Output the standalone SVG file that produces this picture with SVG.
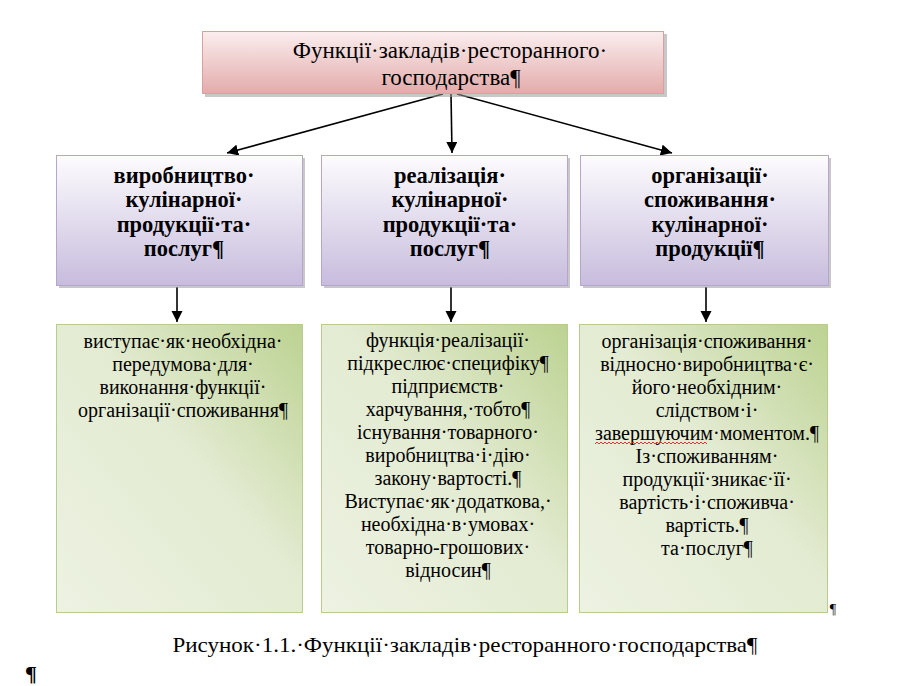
<svg xmlns="http://www.w3.org/2000/svg" width="897" height="686" viewBox="0 0 897 686">
<style>
text{font-family:'Liberation Serif','Tinos','Times New Roman','DejaVu Serif','Noto Serif',serif;fill:#000;text-anchor:middle}
.t{font-size:23px}
.b{font-size:22.5px;font-weight:bold}
.r{font-size:20px}
.cap{font-size:22px}
.sh{fill:#9a9a9a;opacity:0.55}
.top{fill:url(#gPink);stroke:#d9a0a0;stroke-width:1}
.mid{fill:url(#gLav);stroke:#b6a6cc;stroke-width:1}
.bot{fill:url(#gGreen);stroke:#b7cc8e;stroke-width:1}
.ln{stroke:#000;stroke-width:1.6;fill:none;marker-end:url(#ah)}
</style>
<defs>
<linearGradient id="gPink" x1="0" y1="0" x2="0" y2="1">
<stop offset="0" stop-color="#fbeeee"/><stop offset="1" stop-color="#e3abab"/>
</linearGradient>
<linearGradient id="gLav" x1="0" y1="0" x2="0" y2="1">
<stop offset="0" stop-color="#fdfcfe"/><stop offset="1" stop-color="#c7bcdd"/>
</linearGradient>
<linearGradient id="gGreen" x1="1" y1="0" x2="0" y2="1">
<stop offset="0" stop-color="#bcd291"/><stop offset="0.45" stop-color="#e3ebd2"/><stop offset="1" stop-color="#edf2e2"/>
</linearGradient>
<marker id="ah" viewBox="0 0 10 10" refX="10" refY="5" markerWidth="7" markerHeight="7" orient="auto" markerUnits="strokeWidth">
<path d="M0,0 L10,5 L0,10 z" fill="#000"/>
</marker>
</defs>
<rect width="897" height="686" fill="#fff"/>

<g id="connectors">
<line class="ln" x1="443" y1="94" x2="227" y2="153"/>
<line class="ln" x1="451" y1="94" x2="452" y2="153"/>
<line class="ln" x1="457" y1="94" x2="672" y2="153"/>
<line class="ln" x1="177" y1="287" x2="177" y2="322"/>
<line class="ln" x1="451" y1="287" x2="451" y2="322"/>
<line class="ln" x1="706" y1="287" x2="706" y2="322"/>
</g>

<g id="top">
<rect class="sh" x="205" y="34" width="462" height="63"/>
<rect class="top" x="202.5" y="31.5" width="461" height="62"/>
<text class="t" x="450" y="58">Функції·закладів·ресторанного·</text>
<text class="t" x="451" y="85">господарства¶</text>
</g>

<g id="mid1">
<rect class="sh" x="59" y="158" width="246" height="130"/>
<rect class="mid" x="56.5" y="155.5" width="246" height="130"/>
<text class="b" x="184" y="183">виробництво·</text>
<text class="b" x="184" y="207">кулінарної·</text>
<text class="b" x="184" y="232">продукції·та·</text>
<text class="b" x="184" y="256">послуг¶</text>
</g>

<g id="mid2">
<rect class="sh" x="324" y="158" width="246" height="130"/>
<rect class="mid" x="321.5" y="155.5" width="246" height="130"/>
<text class="b" x="450" y="183">реалізація·</text>
<text class="b" x="450" y="207">кулінарної·</text>
<text class="b" x="450" y="232">продукції·та·</text>
<text class="b" x="450" y="256">послуг¶</text>
</g>

<g id="mid3">
<rect class="sh" x="583" y="158" width="248" height="130"/>
<rect class="mid" x="580.5" y="155.5" width="248" height="130"/>
<text class="b" x="710" y="183">організації·</text>
<text class="b" x="710" y="207">споживання·</text>
<text class="b" x="710" y="232">кулінарної·</text>
<text class="b" x="710" y="256">продукції¶</text>
</g>

<g id="bot1">
<rect class="bot" x="56.5" y="324.5" width="246" height="288"/>
<text class="r" x="183" y="348">виступає·як·необхідна·</text>
<text class="r" x="183" y="371">передумова·для·</text>
<text class="r" x="183" y="394">виконання·функції·</text>
<text class="r" x="183" y="417">організації·споживання¶</text>
</g>

<g id="bot2">
<rect class="bot" x="321.5" y="324.5" width="246" height="288"/>
<text class="r" x="448" y="347">функція·реалізації·</text>
<text class="r" x="448" y="370">підкреслює·специфіку¶</text>
<text class="r" x="448" y="393">підприємств·</text>
<text class="r" x="448" y="416">харчування,·тобто¶</text>
<text class="r" x="448" y="439">існування·товарного·</text>
<text class="r" x="448" y="462">виробництва·і·дію·</text>
<text class="r" x="448" y="485">закону·вартості.¶</text>
<text class="r" x="448" y="508">Виступає·як·додаткова,·</text>
<text class="r" x="448" y="531">необхідна·в·умовах·</text>
<text class="r" x="448" y="554">товарно-грошових·</text>
<text class="r" x="448" y="577">відносин¶</text>
</g>

<g id="bot3">
<rect class="bot" x="579.5" y="324.5" width="248" height="288"/>
<text class="r" x="707" y="348">організація·споживання·</text>
<text class="r" x="707" y="371">відносно·виробництва·є·</text>
<text class="r" x="707" y="394">його·необхідним·</text>
<text class="r" x="707" y="417">слідством·і·</text>
<text class="r" x="707" y="440">завершуючим·моментом.¶</text>
<path d="M595,444 l2,-2 l2,2 l2,-2 l2,2 l2,-2 l2,2 l2,-2 l2,2 l2,-2 l2,2 l2,-2 l2,2 l2,-2 l2,2 l2,-2 l2,2 l2,-2 l2,2 l2,-2 l2,2 l2,-2 l2,2 l2,-2 l2,2 l2,-2 l2,2 l2,-2 l2,2 l2,-2 l2,2 l2,-2 l2,2 l2,-2 l2,2 l2,-2 l2,2 l2,-2 l2,2 l2,-2 l2,2 l2,-2 l2,2 l2,-2 l2,2 l2,-2 l2,2 l2,-2 l2,2 l2,-2 l2,2 l2,-2 l2,2 l2,-2 l2,2 l2,-2 l2,2" fill="none" stroke="#e02020" stroke-width="0.9"/>
<text class="r" x="707" y="463">Із·споживанням·</text>
<text class="r" x="707" y="486">продукції·зникає·її·</text>
<text class="r" x="707" y="509">вартість·і·споживча·</text>
<text class="r" x="707" y="532">вартість.¶</text>
<text class="r" x="707" y="555">та·послуг¶</text>
<text class="r" x="833" y="614" style="font-size:14px">¶</text>
</g>

<g id="caption">
<text class="cap" x="465" y="652" textLength="585" lengthAdjust="spacingAndGlyphs">Рисунок·1.1.·Функції·закладів·ресторанного·господарства¶</text>
<text x="31" y="681" style="font-size:22px;font-weight:bold">¶</text>
</g>
</svg>
